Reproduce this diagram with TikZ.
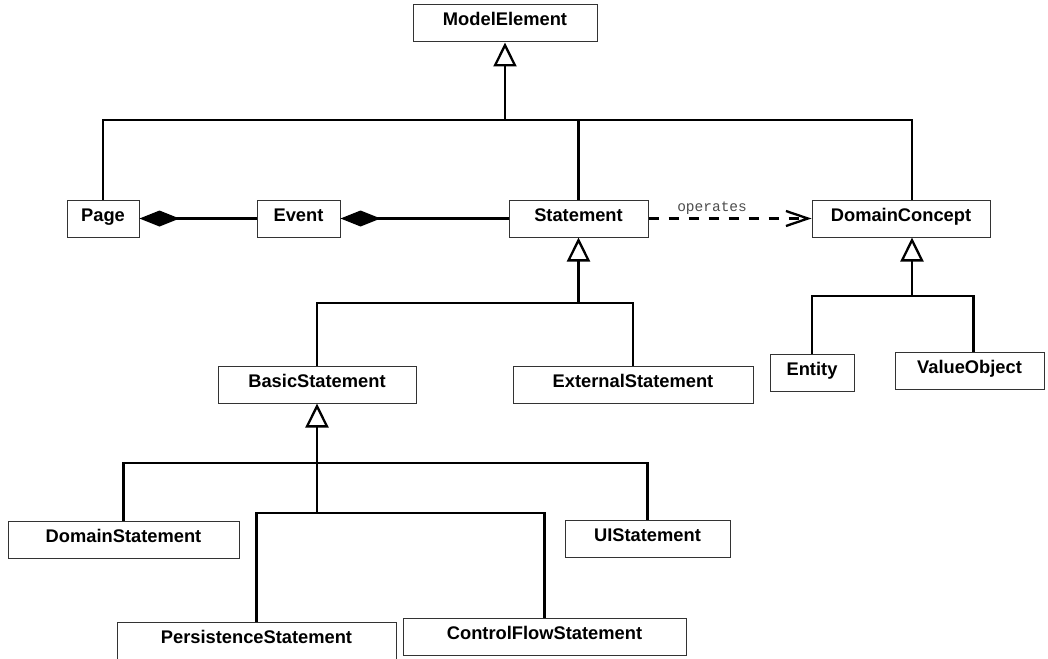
\documentclass[tikz,border=0pt]{standalone}
\usepackage{fontspec}
\setmainfont{Liberation Sans}
\newfontfamily\opfont{Liberation Mono}
\usetikzlibrary{arrows.meta}
\begin{document}
\begin{tikzpicture}[x=1pt,y=-1pt,
  cls/.style={draw=black!80, line width=1pt, inner xsep=0pt, inner ysep=0pt,
    text height=21pt, text depth=16pt, font=\bfseries\fontsize{18.3}{20}\selectfont},
  inh/.style={line width=2.8pt},
  gen/.style={inh, -{Triangle[open, length=24pt, width=23pt, line width=2.3pt]}},
  comp/.style={inh, -{Diamond[length=40pt, width=16pt, line width=1.5pt]}},
  dep/.style={line width=2.3pt, dash pattern=on 10pt off 10pt,
    -{Straight Barb[length=22pt, width=15pt, line width=2.3pt]}},
  lbl/.style={inner sep=0pt, text=black!70, font=\opfont\fontsize{14.5}{16}\selectfont}]
\useasboundingbox (0,0) rectangle (1048,658);
\node[cls, minimum width=184pt] (modelelement) at (505,23.5) {ModelElement};
\node[cls, minimum width=72pt] (page) at (103,218.5) {Page};
\node[cls, minimum width=83pt] (event) at (298.5,218.5) {Event};
\node[cls, minimum width=139pt] (statement) at (578.5,218.5) {Statement};
\node[cls, minimum width=178pt] (domainconcept) at (901,218.5) {DomainConcept};
\node[cls, minimum width=198pt] (basicstatement) at (317,384.5) {BasicStatement};
\node[cls, minimum width=240pt] (externalstatement) at (633,385) {ExternalStatement};
\node[cls, minimum width=84pt] (entity) at (812,373) {Entity};
\node[cls, minimum width=149pt] (valueobject) at (969.5,371) {ValueObject};
\node[cls, minimum width=231pt] (domainstatement) at (123.5,540) {DomainStatement};
\node[cls, minimum width=165pt] (uistatement) at (647.5,538.5) {UIStatement};
\node[cls, minimum width=279pt] (persistencestatement) at (256.5,641) {PersistenceStatement};
\node[cls, minimum width=283pt] (controlflowstatement) at (544.5,636.5) {ControlFlowStatement};
\coordinate (jm) at (modelelement.south |- 0,120);
\coordinate (js) at (statement.south |- 0,303);
\coordinate (jdc) at (912,296);
\coordinate (jb1) at (basicstatement.south |- 0,463);
\coordinate (jb2) at (basicstatement.south |- 0,513);
\draw[inh] (page.north) |- (jm) -| (statement.north);
\draw[inh] (jm) -| (jdc |- domainconcept.north);
\draw[gen] (jm) -- (modelelement);
\draw[comp] (event) -- (page);
\draw[comp] (statement) -- (event);
\draw[dep] (statement) -- (domainconcept) node[lbl, pos=0.39, above=3pt] {operates};
\draw[inh] (basicstatement.north) |- (js) -| (externalstatement.north);
\draw[gen] (js) -- (statement);
\draw[inh] (entity.north) |- (jdc) -| ([xshift=4pt]valueobject.north);
\draw[gen] (jdc) -- (jdc |- domainconcept.south);
\draw[inh] (domainstatement.north) |- (jb1) -| (uistatement.north);
\draw[inh] (persistencestatement.north) |- (jb2) -| (controlflowstatement.north);
\draw[gen] (jb2) -- (basicstatement);
\end{tikzpicture}
\end{document}
